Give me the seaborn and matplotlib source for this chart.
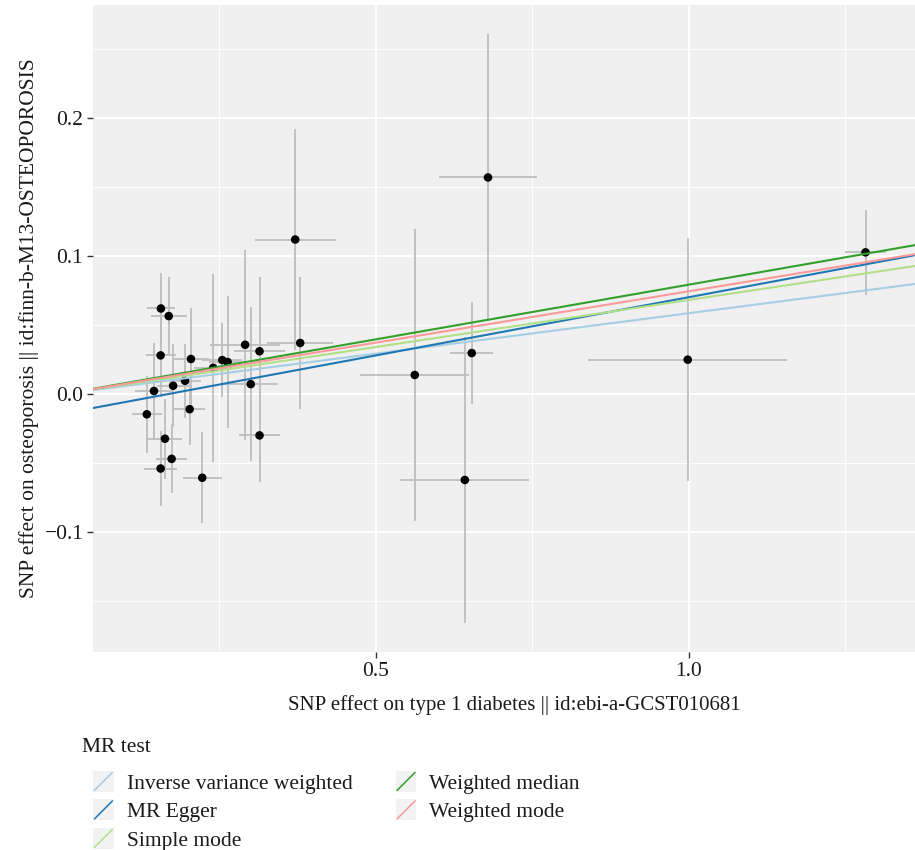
import numpy as np
import pandas as pd
import matplotlib
matplotlib.use("Agg")
import matplotlib.pyplot as plt
import seaborn as sns
from matplotlib.legend_handler import HandlerBase
from matplotlib.lines import Line2D
from matplotlib.patches import Rectangle

# ---------------- data ----------------
beta_exposure = [0.371, 0.1565, 0.169, 0.156, 0.2045, 0.291, 0.314, 0.379, 0.2545, 0.263,
                 0.240, 0.195, 0.176, 0.1454, 0.300, 0.134, 0.2024, 0.1629, 0.314, 0.1736,
                 0.156, 0.2225, 0.679, 0.562, 0.653, 0.642, 0.998, 1.282]
beta_outcome = [0.112, 0.062, 0.0565, 0.028, 0.0254, 0.0357, 0.031, 0.037, 0.0246, 0.0232,
                0.019, 0.0096, 0.006, 0.0022, 0.0072, -0.0147, -0.011, -0.0324, -0.030, -0.047,
                -0.054, -0.0607, 0.157, 0.0138, 0.0297, -0.0623, 0.0249, 0.1027]
se_exposure = [0.065, 0.023, 0.029, 0.024, 0.029, 0.056, 0.041, 0.053, 0.032, 0.030,
               0.030, 0.025, 0.025, 0.030, 0.044, 0.024, 0.025, 0.027, 0.033, 0.025,
               0.026, 0.031, 0.078, 0.087, 0.034, 0.103, 0.159, 0.033]
se_outcome = [0.080, 0.026, 0.028, 0.030, 0.037, 0.069, 0.054, 0.048, 0.027, 0.048,
              0.068, 0.027, 0.030, 0.035, 0.056, 0.028, 0.026, 0.029, 0.034, 0.025,
              0.027, 0.033, 0.104, 0.106, 0.037, 0.104, 0.088, 0.031]

methods = ["Inverse variance weighted", "MR Egger", "Simple mode",
           "Weighted median", "Weighted mode"]
slopes = [0.0586, 0.0844, 0.0682, 0.0793, 0.0745]
intercepts = [0.0, -0.0142, 0.0, 0.0, 0.0]
colors = ["#A6CEE3", "#1F78B4", "#B2DF8A", "#33A02C", "#FB9A99"]

x_label = "SNP effect on type 1 diabetes || id:ebi-a-GCST010681"
y_label = "SNP effect on osteoporosis || id:finn-b-M13-OSTEOPOROSIS"
legend_title = "MR test"

# ---------------- style ----------------
sns.set_theme(style="whitegrid")
plt.rcParams["font.family"] = ["Liberation Serif", "DejaVu Serif"]

W, H = 915, 850
fig = plt.figure(figsize=(W / 100, H / 100), dpi=100)
# panel runs slightly past the right edge of the picture, as in the reference
ax = fig.add_axes([93 / W, (H - 652) / H, (935 - 93) / W, (652 - 5) / H])

xlim = (0.048, 1.393)
ylim = (-0.187, 0.282)
ax.set_facecolor("#F0F0F0")

pts = pd.DataFrame({"bx": beta_exposure, "by": beta_outcome,
                    "sx": se_exposure, "sy": se_outcome})

ax.errorbar(pts["bx"], pts["by"], xerr=pts["sx"], yerr=pts["sy"], fmt="none",
            ecolor="#BEBEBE", elinewidth=1.3, capsize=0, zorder=2)
sns.scatterplot(data=pts, x="bx", y="by", color="black", s=38, edgecolor="none",
                ax=ax, zorder=3, legend=False)

xs = np.array(xlim)
line_df = pd.concat([
    pd.DataFrame({"x": xs, "y": b0 + b1 * xs, "MR test": m})
    for m, b1, b0 in zip(methods, slopes, intercepts)
], ignore_index=True)
sns.lineplot(data=line_df, x="x", y="y", hue="MR test", palette=dict(zip(methods, colors)),
             hue_order=methods, ax=ax, linewidth=1.5, legend=False, zorder=4)

ax.set_xlim(*xlim)
ax.set_ylim(*ylim)

ax.set_xticks([0.5, 1.0])
ax.set_xticklabels(["0.5", "1.0"])
ax.set_yticks([-0.1, 0.0, 0.1, 0.2])
ax.set_yticklabels(["\u22120.1", "0.0", "0.1", "0.2"])
ax.set_xticks([0.25, 0.75, 1.25], minor=True)
ax.set_yticks([-0.15, -0.05, 0.05, 0.15, 0.25], minor=True)
ax.grid(which="major", color="white", linewidth=1.4)
ax.grid(which="minor", color="white", linewidth=0.7)
ax.set_axisbelow(True)
for s in ax.spines.values():
    s.set_visible(False)
ax.tick_params(axis="both", which="major", length=4, width=1, color="#333333",
               labelsize=15.5, labelcolor="#1A1A1A", pad=3, bottom=True, left=True)
ax.tick_params(axis="both", which="minor", length=0)

ax.set_xlabel(x_label, fontsize=15, color="#1A1A1A", labelpad=10)
ax.set_ylabel(y_label, fontsize=15.5, color="#1A1A1A", labelpad=4)


class DiagHandler(HandlerBase):
    def create_artists(self, legend, orig_handle, xdescent, ydescent, width, height,
                       fontsize, trans):
        side = 15
        x0 = -xdescent
        y0 = -ydescent + height / 2 - side / 2
        bg = Rectangle((x0, y0), side, side, facecolor="#F2F2F2", edgecolor="none",
                       transform=trans)
        ln = Line2D([x0 + 1, x0 + side - 1], [y0 + 1, y0 + side - 1],
                    color=orig_handle.get_color(), linewidth=1.1, transform=trans)
        return [bg, ln]


fig.text(82 / W, 1 - 748 / H, legend_title, fontsize=15.5, color="#1A1A1A",
         va="center", ha="left")

handles = [Line2D([], [], color=c) for c in colors]
leg = fig.legend(handles, methods, loc="upper left",
                 bbox_to_anchor=(93 / W, 1 - 772 / H), ncol=2, frameon=False,
                 borderpad=0, borderaxespad=0,
                 handler_map={Line2D: DiagHandler()}, handlelength=0.97,
                 handleheight=0.97, handletextpad=0.6, columnspacing=2.0,
                 labelspacing=0.31, fontsize=15.5)
for t in leg.get_texts():
    t.set_color("#1A1A1A")

fig.savefig("out.png", dpi=100)
